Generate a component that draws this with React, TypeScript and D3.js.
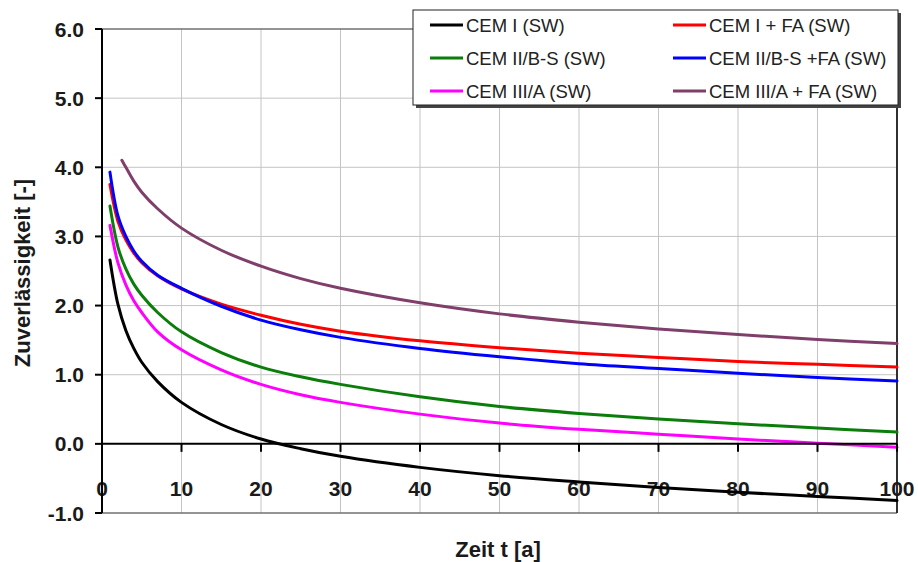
import React from "react";
import * as d3 from "d3";

const T = [1, 2, 3, 4, 5, 7, 10, 15, 20, 25, 30, 40, 50, 60, 70, 80, 90, 100];
const T_PURPLE = [2.5, 3, 4, 5, 7, 10, 15, 20, 25, 30, 40, 50, 60, 70, 80, 90, 100];

const cemI = [2.66, 2.02, 1.64, 1.38, 1.18, 0.9, 0.6, 0.28, 0.07, -0.07, -0.18, -0.34, -0.46, -0.55, -0.63, -0.7, -0.76, -0.82];
const cemIFA = [3.75, 3.22, 2.95, 2.76, 2.62, 2.43, 2.24, 2.02, 1.86, 1.73, 1.63, 1.49, 1.39, 1.31, 1.25, 1.19, 1.15, 1.11];
const cemIIBS = [3.44, 2.85, 2.53, 2.31, 2.15, 1.9, 1.62, 1.32, 1.11, 0.97, 0.86, 0.68, 0.54, 0.44, 0.36, 0.29, 0.23, 0.17];
const cemIIBSFA = [3.93, 3.3, 3.0, 2.79, 2.64, 2.44, 2.25, 1.99, 1.79, 1.65, 1.54, 1.38, 1.26, 1.16, 1.09, 1.02, 0.96, 0.91];
const cemIIIA = [3.16, 2.62, 2.3, 2.07, 1.9, 1.62, 1.36, 1.07, 0.86, 0.71, 0.6, 0.43, 0.3, 0.21, 0.14, 0.07, 0.01, -0.05];
const cemIIIAFA = [4.1, 4.0, 3.8, 3.64, 3.4, 3.12, 2.8, 2.57, 2.39, 2.25, 2.04, 1.88, 1.76, 1.66, 1.58, 1.51, 1.45];

const seriesNames = [
  "CEM I (SW)",
  "CEM I + FA (SW)",
  "CEM II/B-S (SW)",
  "CEM II/B-S +FA (SW)",
  "CEM III/A (SW)",
  "CEM III/A + FA (SW)",
];
const seriesColors = ["#000000", "#ff0000", "#0a7d0a", "#0000ff", "#ff00ff", "#7f3f6a"];
const seriesValues = [cemI, cemIFA, cemIIBS, cemIIBSFA, cemIIIA, cemIIIAFA];
const seriesT = [T, T, T, T, T, T_PURPLE];

const xTicks = [0, 10, 20, 30, 40, 50, 60, 70, 80, 90, 100];
const yTicks = [-1, 0, 1, 2, 3, 4, 5, 6];

const xTitle = "Zeit t [a]";
const yTitle = "Zuverlässigkeit [-]";

const W = 918;
const H = 562;
const FONT = "Arial, 'Liberation Sans', Helvetica, sans-serif";

export default function App() {
  const x = d3.scaleLinear().domain([0, 100]).range([102, 897]);
  const y = d3.scaleLinear().domain([-1, 6]).range([513, 29]);
  const line = d3
    .line<[number, number]>()
    .x((d) => x(d[0]))
    .y((d) => y(d[1]))
    .curve(d3.curveCatmullRom.alpha(0.5));

  const legendLeft = 413;
  const legendTop = 10;
  const legendW = 485;
  const legendH = 95;
  const rowY = (i: number) => 25 + i * 33;
  const colX = [430, 673];

  return (
    <div style={{ position: "fixed", left: 0, top: 0, width: W, height: H, background: "#fff" }}>
      <svg width={W} height={H} style={{ display: "block" }} fontFamily={FONT}>
        <rect x={0} y={0} width={W} height={H} fill="#fff" />
        {/* grid */}
        {xTicks.slice(1, -1).map((t) => (
          <line key={"gx" + t} x1={x(t)} x2={x(t)} y1={y(6)} y2={y(-1)} stroke="#c4c4c4" strokeWidth={1} />
        ))}
        {yTicks.filter((v) => v !== 0 && v !== -1 && v !== 6).map((v) => (
          <line key={"gy" + v} x1={x(0)} x2={x(100)} y1={y(v)} y2={y(v)} stroke="#c4c4c4" strokeWidth={1} />
        ))}
        {/* frame */}
        <line x1={x(0)} x2={x(100)} y1={y(6)} y2={y(6)} stroke="#707070" strokeWidth={1.5} />
        <line x1={x(0)} x2={x(100)} y1={y(-1)} y2={y(-1)} stroke="#707070" strokeWidth={1.5} />
        <line x1={x(100)} x2={x(100)} y1={y(6)} y2={y(-1)} stroke="#303030" strokeWidth={2} />

        {/* x tick labels */}
        {xTicks.map((t) => (
          <text key={"xl" + t} x={x(t)} y={488} textAnchor="middle" dominantBaseline="central" fontSize={21} fontWeight="bold" fill="#1a1a1a">
            {t}
          </text>
        ))}

        {/* curves */}
        {seriesValues.map((vals, i) => (
          <path
            key={"s" + i}
            d={line(vals.map((v, j) => [seriesT[i][j], v] as [number, number])) || ""}
            fill="none"
            stroke={seriesColors[i]}
            strokeWidth={3}
            strokeLinejoin="round"
            strokeLinecap="round"
          />
        ))}

        {/* y axis */}
        <line x1={x(0)} x2={x(0)} y1={y(6)} y2={y(-1)} stroke="#000" strokeWidth={2} />
        {yTicks.map((v) => (
          <g key={"yt" + v}>
            <line x1={x(0) - 7} x2={x(0)} y1={y(v)} y2={y(v)} stroke="#000" strokeWidth={2} />
            <text x={84} y={y(v)} textAnchor="end" dominantBaseline="central" fontSize={21} fontWeight="bold" fill="#1a1a1a">
              {v.toFixed(1)}
            </text>
          </g>
        ))}
        {/* x axis at 0 */}
        <line x1={x(0)} x2={x(100)} y1={y(0)} y2={y(0)} stroke="#000" strokeWidth={2} />
        {xTicks.map((t) => (
          <line key={"xt" + t} x1={x(t)} x2={x(t)} y1={y(0)} y2={y(0) + 8} stroke="#000" strokeWidth={2} />
        ))}

        {/* titles */}
        <text x={498} y={549} textAnchor="middle" dominantBaseline="central" fontSize={22} fontWeight="bold" fill="#1a1a1a">
          {xTitle}
        </text>
        <text
          transform={`translate(22,273) rotate(-90)`}
          textAnchor="middle"
          dominantBaseline="central"
          fontSize={22}
          fontWeight="bold"
          fill="#1a1a1a"
        >
          {yTitle}
        </text>

        {/* legend */}
        <rect x={legendLeft + 3} y={legendTop + 3} width={legendW} height={legendH} fill="#444" />
        <rect x={legendLeft} y={legendTop} width={legendW} height={legendH} fill="#fff" stroke="#222" strokeWidth={1} />
        {seriesNames.map((name, i) => {
          const col = i % 2;
          const row = Math.floor(i / 2);
          const lx = colX[col];
          const ly = rowY(row);
          return (
            <g key={"lg" + i}>
              <line x1={lx} x2={lx + 33} y1={ly} y2={ly} stroke={seriesColors[i]} strokeWidth={3} />
              <text x={lx + 36} y={ly} dominantBaseline="central" fontSize={18.5} fill="#222">
                {name}
              </text>
            </g>
          );
        })}
      </svg>
    </div>
  );
}
